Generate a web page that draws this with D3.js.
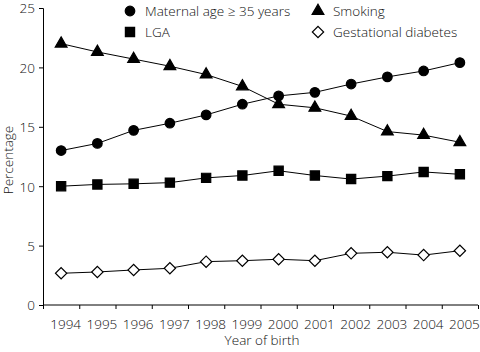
<!DOCTYPE html>
<html><head><meta charset="utf-8">
<script src="https://cdn.jsdelivr.net/npm/d3@7"></script>
<style>body{margin:0;background:#fff}svg{display:block}text{font-family:"Open Sans","DejaVu Sans",sans-serif;font-weight:300;fill:#111}</style>
</head><body>
<script>
const years = [1994,1995,1996,1997,1998,1999,2000,2001,2002,2003,2004,2005];
const maternalAge = [13.0,13.6,14.7,15.3,16.0,16.9,17.6,17.9,18.6,19.2,19.7,20.4];
const smoking = [22.0,21.3,20.7,20.1,19.4,18.4,16.9,16.6,15.9,14.6,14.3,13.7];
const lga = [10.0,10.15,10.2,10.3,10.7,10.9,11.3,10.9,10.6,10.85,11.2,11.0];
const gestDiabetes = [2.67,2.78,2.95,3.09,3.65,3.73,3.85,3.73,4.35,4.44,4.2,4.57];
const yTicks = [0,5,10,15,20,25];
const seriesNames = ["Maternal age \u2265 35 years","Smoking","LGA","Gestational diabetes"];

const W=480,H=352;
const svg=d3.select("body").append("svg").attr("width",W).attr("height",H);
const x=d3.scaleLinear().domain([years[0]-0.5,years[years.length-1]+0.5]).range([43,478]);
const y=d3.scaleLinear().domain([0,25]).range([305,8]);

// axes
const yAx=svg.append("g").attr("transform","translate(43,0)")
  .call(d3.axisLeft(y).tickValues(yTicks).tickSize(4).tickPadding(4));
yAx.selectAll("text").style("font-size","13.5px").attr("dy","0.36em");
const xTickG=svg.append("g").attr("transform","translate(0,305)")
  .call(d3.axisBottom(x).tickValues(years.map(v=>v+0.5).concat([years[0]-0.5])).tickSize(4).tickFormat(""));
xTickG.select(".domain").remove();
svg.append("line").attr("x1",43).attr("x2",478).attr("y1",305).attr("y2",305).attr("stroke","#000");
const xLab=svg.append("g").attr("transform","translate(4,305)")
  .call(d3.axisBottom(x).tickValues(years).tickSize(0).tickPadding(14).tickFormat(d3.format("d")));
xLab.select(".domain").remove();
xLab.selectAll("text").style("font-size","13.5px");
svg.selectAll(".domain,.tick line").attr("stroke","#000");

svg.append("text").attr("x",262).attr("y",345).attr("text-anchor","middle").style("font-size","13.5px").text("Year of birth");
svg.append("text").attr("transform","translate(13,160) rotate(-90)").attr("text-anchor","middle").style("font-size","13.5px").text("Percentage");

const line=d3.line().x((d,i)=>x(years[i])).y(d=>y(d));
const series=[
  {v:maternalAge,sym:d3.symbolCircle,size:72,fill:"#000",rot:0},
  {v:smoking,sym:d3.symbolTriangle,size:60,fill:"#000",rot:0},
  {v:lga,sym:d3.symbolSquare,size:85,fill:"#000",rot:0},
  {v:gestDiabetes,sym:d3.symbolSquare,size:64,fill:"#fff",rot:45}
];
series.forEach(s=>{
  svg.append("path").attr("d",line(s.v)).attr("fill","none").attr("stroke","#000").attr("stroke-width",1);
});
series.forEach(s=>{
  svg.append("g").selectAll("path").data(s.v).join("path")
    .attr("transform",(d,i)=>`translate(${x(years[i])},${y(d)}) rotate(${s.rot})`)
    .attr("d",d3.symbol(s.sym,s.size)).attr("fill",s.fill).attr("stroke","#000").attr("stroke-width",1.2);
});

// legend
const leg=[[130,11,0],[318,11,1],[130,32,2],[318,32,3]];
leg.forEach(([lx,ly,k])=>{
  const s=series[k];
  svg.append("path").attr("transform",`translate(${lx},${ly}) rotate(${s.rot})`).attr("d",d3.symbol(s.sym,s.size)).attr("fill",s.fill).attr("stroke","#000").attr("stroke-width",1.2);
  svg.append("text").attr("x",lx+15).attr("y",ly+5).style("font-size","13.5px").text(seriesNames[k]);
});
</script>
</body></html>
